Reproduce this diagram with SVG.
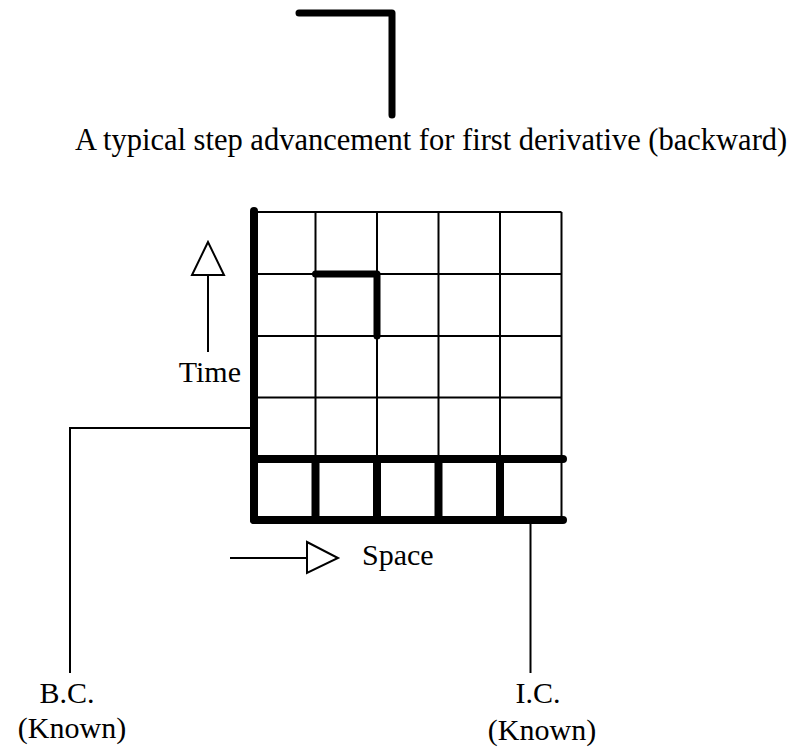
<svg xmlns="http://www.w3.org/2000/svg" width="796" height="747" viewBox="0 0 796 747">
<style>
.t{font-family:"Liberation Serif","Times New Roman",serif;font-size:30px;fill:#000}
.thin{stroke:#000;stroke-width:2;fill:none}
.thick{stroke:#000;stroke-width:8;stroke-linecap:round;fill:none}
.step{stroke:#000;stroke-width:7;stroke-linecap:round;stroke-linejoin:round;fill:none}
.tri{stroke:#000;stroke-width:2;fill:#fff}
</style>
<rect width="796" height="747" fill="#fff"/>
<g id="legend">
<polyline class="step" points="299,13 392,13 392,115" stroke-width="9"/>
<text class="t" x="75" y="150" style="font-size:30.5px">A typical step advancement for first derivative (backward)</text>
</g>
<g id="grid">
<g class="thin">
<line x1="254" y1="212" x2="561.5" y2="212"/>
<line x1="254" y1="274" x2="561.5" y2="274"/>
<line x1="254" y1="336" x2="561.5" y2="336"/>
<line x1="254" y1="397.5" x2="561.5" y2="397.5"/>
<line x1="315.5" y1="212" x2="315.5" y2="459"/>
<line x1="377" y1="212" x2="377" y2="459"/>
<line x1="438.5" y1="212" x2="438.5" y2="459"/>
<line x1="500" y1="212" x2="500" y2="459"/>
<line x1="561.5" y1="212" x2="561.5" y2="520"/>
</g>
<g class="thick">
<line x1="254" y1="211" x2="254" y2="520"/>
<line x1="254" y1="459" x2="563" y2="459"/>
<line x1="254" y1="520" x2="563" y2="520"/>
<line x1="315.5" y1="459" x2="315.5" y2="520" stroke-linecap="butt"/>
<line x1="377" y1="459" x2="377" y2="520" stroke-linecap="butt"/>
<line x1="438.5" y1="459" x2="438.5" y2="520" stroke-linecap="butt"/>
<line x1="500" y1="459" x2="500" y2="520" stroke-linecap="butt"/>
</g>
<polyline class="step" points="315.5,274 377,274 377,336"/>
</g>
<g id="time-axis">
<line class="thin" x1="208" y1="275" x2="208" y2="352"/>
<polygon class="tri" points="208,242 192,275 224,275"/>
<text class="t" x="241" y="382" text-anchor="end">Time</text>
</g>
<g id="space-axis">
<line class="thin" x1="230" y1="558" x2="307" y2="558"/>
<polygon class="tri" points="307,542 338,558 307,573"/>
<text class="t" x="362" y="565">Space</text>
</g>
<g id="bc-label">
<text class="t" x="67" y="703" text-anchor="middle">B.C.</text>
<text class="t" x="72" y="738" text-anchor="middle">(Known)</text>
</g>
<g id="ic-label">
<text class="t" x="538" y="703" text-anchor="middle">I.C.</text>
<text class="t" x="542" y="740" text-anchor="middle">(Known)</text>
</g>
<g id="connectors">
<polyline class="thin" points="254,428 70,428 70,673"/>
<line class="thin" x1="530.5" y1="520" x2="530.5" y2="673"/>
</g>
</svg>
